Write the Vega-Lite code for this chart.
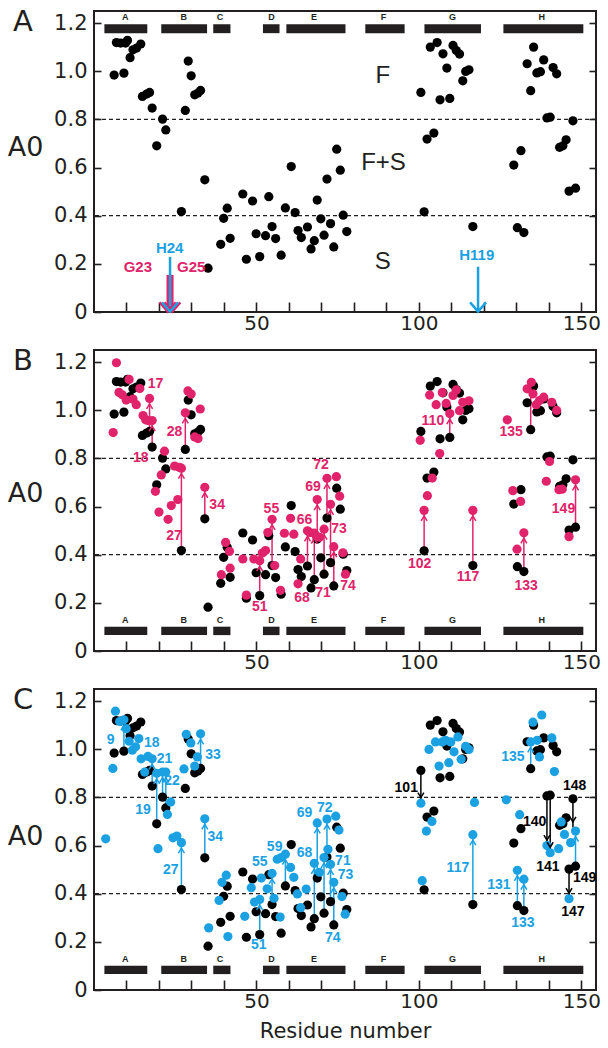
{
"$schema": "https://vega.github.io/schema/vega-lite/v6.json",
"padding": {"left": 6, "top": 6, "right": 5, "bottom": 5},
"background": "white",
"spacing": 38,
"bounds": "flush",
"config": {
  "font": "Liberation Sans",
  "view": {"stroke": "#231f20", "strokeWidth": 2},
  "axis": {"domain": false, "grid": false, "tickColor": "#231f20", "tickWidth": 1.6, "labelColor": "#231f20", "titleColor": "#231f20", "labelFont": "DejaVu Sans", "titleFont": "DejaVu Sans", "titleFontWeight": "normal"},
  "axisY": {"tickSize": -7, "labelFontSize": 21, "labelPadding": 14},
  "axisX": {"tickSize": -10, "labelFontSize": 20, "labelPadding": 11}
},
"datasets": {
  "dashes": [{"A0": 0.4}, {"A0": 0.8}],
  "helix": [
    {"name": "A", "residue": 3.2, "end": 16.4, "mid": 9.6},
    {"name": "B", "residue": 20.7, "end": 34.8, "mid": 27.6},
    {"name": "C", "residue": 36.7, "end": 42.0, "mid": 38.8},
    {"name": "D", "residue": 52.0, "end": 57.1, "mid": 54.6},
    {"name": "E", "residue": 59.2, "end": 77.4, "mid": 67.7},
    {"name": "F", "residue": 83.5, "end": 95.6, "mid": 89.1},
    {"name": "G", "residue": 101.7, "end": 119.1, "mid": 110.3},
    {"name": "H", "residue": 126.0, "end": 150.6, "mid": 137.8}
  ],
  "black": [
    {"residue": 6.2, "A0": 0.984}, {"residue": 6.9, "A0": 1.119}, {"residue": 8.2, "A0": 1.117}, {"residue": 9.2, "A0": 0.992},
    {"residue": 9.7, "A0": 1.117}, {"residue": 10.3, "A0": 1.128}, {"residue": 11.1, "A0": 1.056}, {"residue": 12.0, "A0": 1.089},
    {"residue": 13.1, "A0": 1.096}, {"residue": 14.4, "A0": 1.113}, {"residue": 14.9, "A0": 0.895}, {"residue": 16.2, "A0": 0.905},
    {"residue": 17.1, "A0": 0.912}, {"residue": 17.9, "A0": 0.847}, {"residue": 19.3, "A0": 0.690}, {"residue": 21.1, "A0": 0.801},
    {"residue": 22.1, "A0": 0.756}, {"residue": 26.9, "A0": 0.417}, {"residue": 28.1, "A0": 0.837}, {"residue": 29.0, "A0": 1.042},
    {"residue": 29.9, "A0": 0.981}, {"residue": 31.0, "A0": 0.902}, {"residue": 32.0, "A0": 0.909}, {"residue": 32.8, "A0": 0.920},
    {"residue": 34.1, "A0": 0.549}, {"residue": 35.1, "A0": 0.182}, {"residue": 39.0, "A0": 0.281}, {"residue": 39.9, "A0": 0.389},
    {"residue": 41.0, "A0": 0.431}, {"residue": 41.9, "A0": 0.306}, {"residue": 45.8, "A0": 0.490}, {"residue": 46.9, "A0": 0.219},
    {"residue": 48.8, "A0": 0.461}, {"residue": 49.9, "A0": 0.325}, {"residue": 51.0, "A0": 0.230}, {"residue": 52.8, "A0": 0.317},
    {"residue": 53.8, "A0": 0.479}, {"residue": 54.8, "A0": 0.355}, {"residue": 55.9, "A0": 0.305}, {"residue": 57.6, "A0": 0.236},
    {"residue": 58.9, "A0": 0.432}, {"residue": 60.7, "A0": 0.604}, {"residue": 61.9, "A0": 0.413}, {"residue": 62.8, "A0": 0.338},
    {"residue": 63.8, "A0": 0.309}, {"residue": 65.7, "A0": 0.353}, {"residue": 66.8, "A0": 0.262}, {"residue": 67.8, "A0": 0.296},
    {"residue": 68.7, "A0": 0.465}, {"residue": 69.8, "A0": 0.387}, {"residue": 70.8, "A0": 0.319}, {"residue": 71.7, "A0": 0.552},
    {"residue": 72.8, "A0": 0.367}, {"residue": 73.8, "A0": 0.270}, {"residue": 74.7, "A0": 0.676}, {"residue": 75.8, "A0": 0.589},
    {"residue": 76.7, "A0": 0.402}, {"residue": 77.8, "A0": 0.334}, {"residue": 100.6, "A0": 0.912}, {"residue": 101.6, "A0": 0.416},
    {"residue": 102.5, "A0": 0.718}, {"residue": 103.5, "A0": 1.100}, {"residue": 104.6, "A0": 0.743}, {"residue": 105.6, "A0": 1.119},
    {"residue": 106.5, "A0": 0.881}, {"residue": 107.4, "A0": 1.072}, {"residue": 108.6, "A0": 1.013}, {"residue": 109.5, "A0": 0.887},
    {"residue": 110.5, "A0": 1.107}, {"residue": 111.5, "A0": 1.086}, {"residue": 112.5, "A0": 1.071}, {"residue": 113.5, "A0": 0.960},
    {"residue": 114.4, "A0": 0.999}, {"residue": 115.4, "A0": 1.006}, {"residue": 116.6, "A0": 0.355}, {"residue": 129.2, "A0": 0.610},
    {"residue": 130.3, "A0": 0.350}, {"residue": 131.4, "A0": 0.670}, {"residue": 132.3, "A0": 0.330}, {"residue": 133.3, "A0": 1.031},
    {"residue": 134.4, "A0": 0.919}, {"residue": 135.3, "A0": 1.100}, {"residue": 136.3, "A0": 0.993}, {"residue": 137.4, "A0": 0.998},
    {"residue": 138.4, "A0": 1.047}, {"residue": 139.4, "A0": 0.806}, {"residue": 140.4, "A0": 0.809}, {"residue": 141.3, "A0": 1.015},
    {"residue": 142.4, "A0": 0.989}, {"residue": 143.3, "A0": 0.684}, {"residue": 144.3, "A0": 0.690}, {"residue": 145.3, "A0": 0.715},
    {"residue": 146.2, "A0": 0.502}, {"residue": 147.4, "A0": 0.794}, {"residue": 148.2, "A0": 0.514}
  ],
  "magenta": [
    {"residue": 6.9, "A0": 1.197}, {"residue": 5.9, "A0": 0.907}, {"residue": 7.7, "A0": 1.074}, {"residue": 8.7, "A0": 1.064},
    {"residue": 9.9, "A0": 1.042}, {"residue": 10.8, "A0": 1.128}, {"residue": 12.0, "A0": 1.046}, {"residue": 13.0, "A0": 1.023},
    {"residue": 14.1, "A0": 1.090}, {"residue": 15.1, "A0": 0.978}, {"residue": 15.9, "A0": 0.960}, {"residue": 17.1, "A0": 1.049},
    {"residue": 16.7, "A0": 0.957}, {"residue": 17.9, "A0": 0.957}, {"residue": 18.9, "A0": 0.663}, {"residue": 20.0, "A0": 0.577},
    {"residue": 20.7, "A0": 0.731}, {"residue": 21.7, "A0": 0.830}, {"residue": 22.8, "A0": 0.547}, {"residue": 23.8, "A0": 0.604},
    {"residue": 24.8, "A0": 0.768}, {"residue": 25.8, "A0": 0.629}, {"residue": 26.2, "A0": 0.763}, {"residue": 26.9, "A0": 0.759},
    {"residue": 28.1, "A0": 0.989}, {"residue": 28.9, "A0": 1.080}, {"residue": 29.9, "A0": 1.067}, {"residue": 31.0, "A0": 0.889},
    {"residue": 32.0, "A0": 0.882}, {"residue": 32.7, "A0": 1.005}, {"residue": 34.1, "A0": 0.680}, {"residue": 39.2, "A0": 0.317},
    {"residue": 40.5, "A0": 0.451}, {"residue": 41.7, "A0": 0.414}, {"residue": 41.9, "A0": 0.344}, {"residue": 45.8, "A0": 0.382},
    {"residue": 46.9, "A0": 0.232}, {"residue": 49.2, "A0": 0.382}, {"residue": 51.0, "A0": 0.375}, {"residue": 51.8, "A0": 0.407},
    {"residue": 52.8, "A0": 0.417}, {"residue": 53.5, "A0": 0.492}, {"residue": 54.8, "A0": 0.547}, {"residue": 55.6, "A0": 0.355},
    {"residue": 57.4, "A0": 0.252}, {"residue": 58.6, "A0": 0.489}, {"residue": 60.5, "A0": 0.551}, {"residue": 61.5, "A0": 0.485},
    {"residue": 63.6, "A0": 0.382}, {"residue": 62.8, "A0": 0.279}, {"residue": 65.7, "A0": 0.499}, {"residue": 66.4, "A0": 0.492},
    {"residue": 67.8, "A0": 0.490}, {"residue": 68.4, "A0": 0.478}, {"residue": 68.7, "A0": 0.629}, {"residue": 69.4, "A0": 0.472},
    {"residue": 70.8, "A0": 0.506}, {"residue": 71.7, "A0": 0.717}, {"residue": 72.8, "A0": 0.609}, {"residue": 73.8, "A0": 0.433},
    {"residue": 74.6, "A0": 0.724}, {"residue": 75.6, "A0": 0.643}, {"residue": 76.6, "A0": 0.408}, {"residue": 77.4, "A0": 0.319},
    {"residue": 100.4, "A0": 0.875}, {"residue": 101.6, "A0": 0.584}, {"residue": 102.6, "A0": 0.645}, {"residue": 104.1, "A0": 0.718},
    {"residue": 103.3, "A0": 1.063}, {"residue": 105.3, "A0": 1.023}, {"residue": 106.4, "A0": 0.820}, {"residue": 107.2, "A0": 1.073},
    {"residue": 108.4, "A0": 1.028}, {"residue": 109.5, "A0": 0.986}, {"residue": 110.5, "A0": 1.061}, {"residue": 111.5, "A0": 1.084},
    {"residue": 112.5, "A0": 0.998}, {"residue": 113.5, "A0": 1.033}, {"residue": 115.4, "A0": 1.039}, {"residue": 116.6, "A0": 0.584},
    {"residue": 127.2, "A0": 0.960}, {"residue": 128.9, "A0": 0.666}, {"residue": 131.3, "A0": 0.621}, {"residue": 130.2, "A0": 0.423},
    {"residue": 132.3, "A0": 0.491}, {"residue": 133.3, "A0": 1.089}, {"residue": 134.6, "A0": 1.116}, {"residue": 135.1, "A0": 1.068},
    {"residue": 136.1, "A0": 1.023}, {"residue": 137.1, "A0": 1.040}, {"residue": 138.4, "A0": 1.054}, {"residue": 140.2, "A0": 0.787},
    {"residue": 139.2, "A0": 0.705}, {"residue": 140.9, "A0": 1.033}, {"residue": 142.4, "A0": 0.999}, {"residue": 143.1, "A0": 0.670},
    {"residue": 144.1, "A0": 0.672}, {"residue": 146.2, "A0": 0.475}, {"residue": 148.2, "A0": 0.711}
  ],
  "cyan": [
    {"residue": 3.6, "A0": 0.628}, {"residue": 5.8, "A0": 0.920}, {"residue": 6.6, "A0": 1.158}, {"residue": 7.9, "A0": 1.115},
    {"residue": 9.2, "A0": 1.122}, {"residue": 9.9, "A0": 1.085}, {"residue": 10.8, "A0": 1.033}, {"residue": 11.8, "A0": 0.996},
    {"residue": 12.8, "A0": 1.010}, {"residue": 13.8, "A0": 1.044}, {"residue": 14.5, "A0": 0.960}, {"residue": 15.6, "A0": 0.905},
    {"residue": 16.6, "A0": 0.970}, {"residue": 17.9, "A0": 0.960}, {"residue": 19.3, "A0": 0.900}, {"residue": 21.1, "A0": 0.905},
    {"residue": 22.1, "A0": 0.905}, {"residue": 19.7, "A0": 0.587}, {"residue": 22.6, "A0": 0.729}, {"residue": 23.6, "A0": 0.781},
    {"residue": 24.3, "A0": 0.632}, {"residue": 25.5, "A0": 0.639}, {"residue": 26.9, "A0": 0.612}, {"residue": 27.7, "A0": 0.918},
    {"residue": 28.4, "A0": 1.062}, {"residue": 29.8, "A0": 1.026}, {"residue": 31.0, "A0": 0.930}, {"residue": 31.8, "A0": 0.968},
    {"residue": 32.8, "A0": 1.064}, {"residue": 34.1, "A0": 0.711}, {"residue": 35.3, "A0": 0.258}, {"residue": 38.5, "A0": 0.372},
    {"residue": 39.4, "A0": 0.447}, {"residue": 40.7, "A0": 0.477}, {"residue": 41.2, "A0": 0.222}, {"residue": 46.4, "A0": 0.306},
    {"residue": 48.4, "A0": 0.425}, {"residue": 49.4, "A0": 0.365}, {"residue": 51.0, "A0": 0.376}, {"residue": 51.5, "A0": 0.465},
    {"residue": 53.3, "A0": 0.420}, {"residue": 54.8, "A0": 0.484}, {"residue": 55.4, "A0": 0.381}, {"residue": 57.3, "A0": 0.303},
    {"residue": 56.4, "A0": 0.543}, {"residue": 57.6, "A0": 0.550}, {"residue": 58.9, "A0": 0.564}, {"residue": 60.5, "A0": 0.509},
    {"residue": 61.5, "A0": 0.468}, {"residue": 62.6, "A0": 0.399}, {"residue": 63.6, "A0": 0.342}, {"residue": 65.3, "A0": 0.419},
    {"residue": 67.8, "A0": 0.526}, {"residue": 68.7, "A0": 0.694}, {"residue": 69.4, "A0": 0.489}, {"residue": 70.8, "A0": 0.550},
    {"residue": 71.7, "A0": 0.710}, {"residue": 72.0, "A0": 0.584}, {"residue": 72.8, "A0": 0.522}, {"residue": 73.8, "A0": 0.447},
    {"residue": 74.4, "A0": 0.722}, {"residue": 75.4, "A0": 0.664}, {"residue": 76.3, "A0": 0.388}, {"residue": 77.3, "A0": 0.315},
    {"residue": 100.6, "A0": 0.776}, {"residue": 101.0, "A0": 0.454}, {"residue": 102.3, "A0": 0.660}, {"residue": 104.0, "A0": 0.700},
    {"residue": 103.1, "A0": 0.999}, {"residue": 105.1, "A0": 1.030}, {"residue": 106.2, "A0": 0.930}, {"residue": 107.2, "A0": 1.030},
    {"residue": 108.2, "A0": 1.037}, {"residue": 109.2, "A0": 0.944}, {"residue": 109.8, "A0": 1.030}, {"residue": 110.8, "A0": 0.989},
    {"residue": 112.0, "A0": 1.051}, {"residue": 113.0, "A0": 0.958}, {"residue": 114.4, "A0": 1.012}, {"residue": 115.4, "A0": 0.999},
    {"residue": 117.1, "A0": 0.779}, {"residue": 116.6, "A0": 0.645}, {"residue": 126.9, "A0": 0.790}, {"residue": 131.0, "A0": 0.728},
    {"residue": 130.3, "A0": 0.497}, {"residue": 132.3, "A0": 0.460}, {"residue": 134.4, "A0": 1.030}, {"residue": 135.1, "A0": 1.112},
    {"residue": 136.4, "A0": 1.037}, {"residue": 137.8, "A0": 1.142}, {"residue": 137.1, "A0": 0.968}, {"residue": 140.9, "A0": 1.047},
    {"residue": 141.7, "A0": 0.907}, {"residue": 139.4, "A0": 0.600}, {"residue": 140.4, "A0": 0.570}, {"residue": 143.0, "A0": 0.587},
    {"residue": 143.8, "A0": 0.698}, {"residue": 144.8, "A0": 0.646}, {"residue": 146.7, "A0": 0.612}, {"residue": 148.2, "A0": 0.660},
    {"residue": 146.2, "A0": 0.379}
  ],
  "arrowsA": [
    {"residue": 22.7, "A0": 0.154, "to": 0, "c": "m"},
    {"residue": 24.1, "A0": 0.154, "to": 0, "c": "m"},
    {"residue": 23.4, "A0": 0.229, "to": 0, "c": "c"},
    {"residue": 118.2, "A0": 0.188, "to": 0, "c": "c"}
  ],
  "labelsA": [
    {"residue": 23.3, "A0": 0.265, "label": "H24", "c": "c"},
    {"residue": 13.5, "A0": 0.188, "label": "G23", "c": "m"},
    {"residue": 29.9, "A0": 0.188, "label": "G25", "c": "m"},
    {"residue": 117.8, "A0": 0.237, "label": "H119", "c": "c"}
  ],
  "arrowsB": [
    {"residue": 17.1, "A0": 0.912, "to": 1.049, "c": "m", "dir": "up"},
    {"residue": 17.9, "A0": 0.847, "to": 0.957, "c": "m", "dir": "up"},
    {"residue": 26.9, "A0": 0.417, "to": 0.759, "c": "m", "dir": "up"},
    {"residue": 28.1, "A0": 0.837, "to": 0.989, "c": "m", "dir": "up"},
    {"residue": 34.1, "A0": 0.549, "to": 0.680, "c": "m", "dir": "up"},
    {"residue": 51.0, "A0": 0.230, "to": 0.375, "c": "m", "dir": "up"},
    {"residue": 54.8, "A0": 0.355, "to": 0.547, "c": "m", "dir": "up"},
    {"residue": 65.7, "A0": 0.353, "to": 0.499, "c": "m", "dir": "up"},
    {"residue": 67.8, "A0": 0.296, "to": 0.490, "c": "m", "dir": "up"},
    {"residue": 68.7, "A0": 0.465, "to": 0.629, "c": "m", "dir": "up"},
    {"residue": 70.8, "A0": 0.319, "to": 0.506, "c": "m", "dir": "up"},
    {"residue": 71.7, "A0": 0.552, "to": 0.717, "c": "m", "dir": "up"},
    {"residue": 72.8, "A0": 0.367, "to": 0.609, "c": "m", "dir": "up"},
    {"residue": 73.8, "A0": 0.270, "to": 0.433, "c": "m", "dir": "up"},
    {"residue": 101.6, "A0": 0.416, "to": 0.584, "c": "m", "dir": "up"},
    {"residue": 109.5, "A0": 0.887, "to": 0.986, "c": "m", "dir": "up"},
    {"residue": 116.6, "A0": 0.355, "to": 0.584, "c": "m", "dir": "up"},
    {"residue": 132.3, "A0": 0.330, "to": 0.491, "c": "m", "dir": "up"},
    {"residue": 148.2, "A0": 0.514, "to": 0.711, "c": "m", "dir": "up"}
  ],
  "linesB": [
    {"residue": 134.4, "A0": 0.919, "to": 1.10, "c": "m"}
  ],
  "labelsB": [
    {"residue": 18.9, "A0": 1.108, "label": "17", "c": "m"},
    {"residue": 14.4, "A0": 0.802, "label": "18", "c": "m"},
    {"residue": 24.6, "A0": 0.476, "label": "27", "c": "m"},
    {"residue": 24.8, "A0": 0.909, "label": "28", "c": "m"},
    {"residue": 37.9, "A0": 0.608, "label": "34", "c": "m"},
    {"residue": 51.0, "A0": 0.184, "label": "51", "c": "m"},
    {"residue": 54.6, "A0": 0.590, "label": "55", "c": "m"},
    {"residue": 64.8, "A0": 0.542, "label": "66", "c": "m"},
    {"residue": 64.0, "A0": 0.221, "label": "68", "c": "m"},
    {"residue": 67.4, "A0": 0.683, "label": "69", "c": "m"},
    {"residue": 70.5, "A0": 0.241, "label": "71", "c": "m"},
    {"residue": 69.9, "A0": 0.772, "label": "72", "c": "m"},
    {"residue": 75.4, "A0": 0.508, "label": "73", "c": "m"},
    {"residue": 78.2, "A0": 0.270, "label": "74", "c": "m"},
    {"residue": 100.2, "A0": 0.362, "label": "102", "c": "m"},
    {"residue": 104.3, "A0": 0.957, "label": "110", "c": "m"},
    {"residue": 115.1, "A0": 0.307, "label": "117", "c": "m"},
    {"residue": 133.0, "A0": 0.272, "label": "133", "c": "m"},
    {"residue": 128.4, "A0": 0.909, "label": "135", "c": "m"},
    {"residue": 144.5, "A0": 0.588, "label": "149", "c": "m"}
  ],
  "arrowsC": [
    {"residue": 9.2, "A0": 0.992, "to": 1.122, "c": "c", "dir": "up"},
    {"residue": 17.9, "A0": 0.847, "to": 0.960, "c": "c", "dir": "up"},
    {"residue": 19.3, "A0": 0.690, "to": 0.900, "c": "c", "dir": "up"},
    {"residue": 21.1, "A0": 0.801, "to": 0.905, "c": "c", "dir": "up"},
    {"residue": 22.1, "A0": 0.756, "to": 0.905, "c": "c", "dir": "up"},
    {"residue": 26.9, "A0": 0.417, "to": 0.612, "c": "c", "dir": "up"},
    {"residue": 32.8, "A0": 0.920, "to": 1.064, "c": "c", "dir": "up"},
    {"residue": 34.1, "A0": 0.549, "to": 0.711, "c": "c", "dir": "up"},
    {"residue": 51.0, "A0": 0.230, "to": 0.376, "c": "c", "dir": "up"},
    {"residue": 54.8, "A0": 0.355, "to": 0.484, "c": "c", "dir": "up"},
    {"residue": 58.9, "A0": 0.432, "to": 0.564, "c": "c", "dir": "up"},
    {"residue": 67.8, "A0": 0.296, "to": 0.526, "c": "c", "dir": "up"},
    {"residue": 68.7, "A0": 0.465, "to": 0.694, "c": "c", "dir": "up"},
    {"residue": 70.8, "A0": 0.319, "to": 0.550, "c": "c", "dir": "up"},
    {"residue": 71.7, "A0": 0.552, "to": 0.710, "c": "c", "dir": "up"},
    {"residue": 72.8, "A0": 0.367, "to": 0.522, "c": "c", "dir": "up"},
    {"residue": 73.8, "A0": 0.270, "to": 0.447, "c": "c", "dir": "up"},
    {"residue": 116.6, "A0": 0.355, "to": 0.645, "c": "c", "dir": "up"},
    {"residue": 130.3, "A0": 0.350, "to": 0.497, "c": "c", "dir": "up"},
    {"residue": 132.3, "A0": 0.330, "to": 0.460, "c": "c", "dir": "up"},
    {"residue": 134.4, "A0": 0.919, "to": 1.030, "c": "c", "dir": "up"},
    {"residue": 148.2, "A0": 0.514, "to": 0.660, "c": "c", "dir": "up"},
    {"residue": 100.6, "A0": 0.912, "to": 0.776, "c": "k", "dir": "down"},
    {"residue": 139.4, "A0": 0.806, "to": 0.600, "c": "k", "dir": "down"},
    {"residue": 140.4, "A0": 0.809, "to": 0.570, "c": "k", "dir": "down"},
    {"residue": 147.4, "A0": 0.794, "to": 0.675, "c": "k", "dir": "down"},
    {"residue": 146.2, "A0": 0.502, "to": 0.379, "c": "k", "dir": "down"}
  ],
  "labelsC": [
    {"residue": 5.1, "A0": 1.040, "label": "9", "c": "c"},
    {"residue": 17.8, "A0": 1.026, "label": "18", "c": "c"},
    {"residue": 21.7, "A0": 0.958, "label": "21", "c": "c"},
    {"residue": 24.0, "A0": 0.870, "label": "22", "c": "c"},
    {"residue": 15.1, "A0": 0.749, "label": "19", "c": "c"},
    {"residue": 23.6, "A0": 0.498, "label": "27", "c": "c"},
    {"residue": 36.6, "A0": 0.975, "label": "33", "c": "c"},
    {"residue": 37.3, "A0": 0.635, "label": "34", "c": "c"},
    {"residue": 50.7, "A0": 0.186, "label": "51", "c": "c"},
    {"residue": 51.0, "A0": 0.532, "label": "55", "c": "c"},
    {"residue": 55.6, "A0": 0.595, "label": "59", "c": "c"},
    {"residue": 64.8, "A0": 0.571, "label": "68", "c": "c"},
    {"residue": 64.8, "A0": 0.733, "label": "69", "c": "c"},
    {"residue": 76.6, "A0": 0.536, "label": "71", "c": "c"},
    {"residue": 71.0, "A0": 0.756, "label": "72", "c": "c"},
    {"residue": 77.4, "A0": 0.477, "label": "73", "c": "c"},
    {"residue": 73.5, "A0": 0.214, "label": "74", "c": "c"},
    {"residue": 112.0, "A0": 0.505, "label": "117", "c": "c"},
    {"residue": 124.6, "A0": 0.436, "label": "131", "c": "c"},
    {"residue": 132.0, "A0": 0.279, "label": "133", "c": "c"},
    {"residue": 128.9, "A0": 0.968, "label": "135", "c": "c"},
    {"residue": 96.1, "A0": 0.840, "label": "101", "c": "k"},
    {"residue": 135.6, "A0": 0.697, "label": "140", "c": "k"},
    {"residue": 139.7, "A0": 0.509, "label": "141", "c": "k"},
    {"residue": 147.9, "A0": 0.848, "label": "148", "c": "k"},
    {"residue": 147.4, "A0": 0.324, "label": "147", "c": "k"},
    {"residue": 151.0, "A0": 0.464, "label": "149", "c": "k"}
  ]
},
"vconcat": [
  {
    "width": 502, "height": 301,
    "resolve": {"axis": {"x": "independent", "y": "independent"}},
    "layer": [
      {"data": {"name": "dashes"}, "mark": {"type": "rule", "strokeDash": [4, 3], "strokeWidth": 1.2, "color": "#231f20"},
       "encoding": {"y": {"field": "A0", "type": "quantitative", "scale": {"domain": [0, 1.25], "nice": false}, "axis": {"orient": "right", "values": [0.2, 0.4, 0.6, 0.8, 1, 1.2], "labels": false, "title": null}}}},
      {"data": {"name": "helix"}, "mark": {"type": "rect", "color": "#231f20"},
       "encoding": {"x": {"field": "residue", "type": "quantitative", "scale": {"domain": [0, 154.5], "nice": false, "zero": false}, "axis": null}, "x2": {"field": "end"}, "y": {"datum": 1.158, "type": "quantitative", "scale": {"domain": [0, 1.25], "nice": false}, "axis": null}, "y2": {"datum": 1.195}}},
      {"data": {"name": "helix"}, "mark": {"type": "text", "fontSize": 9, "fontWeight": "bold", "color": "#231f20", "baseline": "middle"},
       "encoding": {"x": {"field": "mid", "type": "quantitative", "scale": {"domain": [0, 154.5], "nice": false, "zero": false}, "axis": null}, "y": {"datum": 1.227, "type": "quantitative", "scale": {"domain": [0, 1.25], "nice": false}, "axis": null}, "text": {"field": "name"}}},
      {"data": {"name": "black"}, "mark": {"type": "circle", "size": 85, "color": "#000000", "opacity": 1},
       "encoding": {
          "x": {"field": "residue", "type": "quantitative", "scale": {"domain": [0, 154.5], "nice": false, "zero": false}, "axis": {"orient": "bottom", "values": [10, 20, 30, 40, 50, 60, 70, 80, 90, 100, 110, 120, 130, 140, 150], "labelExpr": "datum.value % 50 == 0 ? datum.label : ''", "title": null}},
          "y": {"field": "A0", "type": "quantitative", "scale": {"domain": [0, 1.25], "nice": false}, "axis": {"orient": "left", "values": [0, 0.2, 0.4, 0.6, 0.8, 1, 1.2], "labelExpr": "datum.value == 0 ? '0' : format(datum.value, '.1f')", "title": "A0", "titleAngle": 0, "titleFontSize": 27, "titleAlign": "right", "titleBaseline": "middle", "titleX": -51, "titleY": 136}}}},
      {"data": {"name": "arrowsA"}, "mark": {"type": "rule", "strokeWidth": 2.5},
       "encoding": {"x": {"field": "residue", "type": "quantitative", "scale": {"domain": [0, 154.5], "nice": false, "zero": false}, "axis": null}, "y": {"field": "A0", "type": "quantitative", "scale": {"domain": [0, 1.25], "nice": false}, "axis": null}, "y2": {"field": "to"}, "color": {"field": "c", "type": "nominal", "scale": {"domain": ["k", "m", "c"], "range": ["#000000", "#E0236A", "#1BA1E2"]}, "legend": null}}},
      {"data": {"name": "arrowsA"}, "mark": {"type": "point", "filled": false, "strokeWidth": 2.5, "size": 256, "opacity": 1, "shape": "M-1,-1.2L0,-0.05L1,-1.2"},
       "encoding": {"x": {"field": "residue", "type": "quantitative", "scale": {"domain": [0, 154.5], "nice": false, "zero": false}, "axis": null}, "y": {"field": "to", "type": "quantitative", "scale": {"domain": [0, 1.25], "nice": false}, "axis": null}, "color": {"field": "c", "type": "nominal", "scale": {"domain": ["k", "m", "c"], "range": ["#000000", "#E0236A", "#1BA1E2"]}, "legend": null}}},
      {"data": {"name": "labelsA"}, "mark": {"type": "text", "fontSize": 15, "fontWeight": "bold", "baseline": "middle"},
       "encoding": {"x": {"field": "residue", "type": "quantitative", "scale": {"domain": [0, 154.5], "nice": false, "zero": false}, "axis": null}, "y": {"field": "A0", "type": "quantitative", "scale": {"domain": [0, 1.25], "nice": false}, "axis": null}, "text": {"field": "label"}, "color": {"field": "c", "type": "nominal", "scale": {"domain": ["k", "m", "c"], "range": ["#000000", "#E0236A", "#1BA1E2"]}, "legend": null}}},
      {"data": {"values": [{"residue": 88.9, "A0": 0.981, "t": "F"}, {"residue": 89.1, "A0": 0.618, "t": "F+S"}, {"residue": 88.9, "A0": 0.209, "t": "S"}]},
       "mark": {"type": "text", "fontSize": 24, "baseline": "middle", "color": "#231f20"},
       "encoding": {"x": {"field": "residue", "type": "quantitative", "scale": {"domain": [0, 154.5], "nice": false, "zero": false}, "axis": null}, "y": {"field": "A0", "type": "quantitative", "scale": {"domain": [0, 1.25], "nice": false}, "axis": null}, "text": {"field": "t"}}},
      {"data": {"values": [{"residue": -24.9, "A0": 1.206, "t": "A"}]},
       "mark": {"type": "text", "font": "DejaVu Sans", "fontSize": 29, "align": "left", "baseline": "middle", "color": "#231f20"},
       "encoding": {"x": {"field": "residue", "type": "quantitative", "scale": {"domain": [0, 154.5], "nice": false, "zero": false}, "axis": null}, "y": {"field": "A0", "type": "quantitative", "scale": {"domain": [0, 1.25], "nice": false}, "axis": null}, "text": {"field": "t"}}}
    ]
  },
  {
    "width": 502, "height": 301,
    "resolve": {"axis": {"x": "independent", "y": "independent"}},
    "layer": [
      {"data": {"name": "dashes"}, "mark": {"type": "rule", "strokeDash": [4, 3], "strokeWidth": 1.2, "color": "#231f20"},
       "encoding": {"y": {"field": "A0", "type": "quantitative", "scale": {"domain": [0, 1.25], "nice": false}, "axis": {"orient": "right", "values": [0.2, 0.4, 0.6, 0.8, 1, 1.2], "labels": false, "title": null}}}},
      {"data": {"name": "helix"}, "mark": {"type": "rect", "color": "#231f20"},
       "encoding": {"x": {"field": "residue", "type": "quantitative", "scale": {"domain": [0, 154.5], "nice": false, "zero": false}, "axis": null}, "x2": {"field": "end"}, "y": {"datum": 0.066, "type": "quantitative", "scale": {"domain": [0, 1.25], "nice": false}, "axis": null}, "y2": {"datum": 0.101}}},
      {"data": {"name": "helix"}, "mark": {"type": "text", "fontSize": 9, "fontWeight": "bold", "color": "#231f20", "baseline": "middle"},
       "encoding": {"x": {"field": "mid", "type": "quantitative", "scale": {"domain": [0, 154.5], "nice": false, "zero": false}, "axis": null}, "y": {"datum": 0.129, "type": "quantitative", "scale": {"domain": [0, 1.25], "nice": false}, "axis": null}, "text": {"field": "name"}}},
      {"data": {"name": "arrowsB"}, "mark": {"type": "rule", "strokeWidth": 1.5},
       "encoding": {"x": {"field": "residue", "type": "quantitative", "scale": {"domain": [0, 154.5], "nice": false, "zero": false}, "axis": null}, "y": {"field": "A0", "type": "quantitative", "scale": {"domain": [0, 1.25], "nice": false}, "axis": null}, "y2": {"field": "to"}, "color": {"field": "c", "type": "nominal", "scale": {"domain": ["k", "m", "c"], "range": ["#000000", "#E0236A", "#1BA1E2"]}, "legend": null}}},
      {"data": {"name": "linesB"}, "mark": {"type": "rule", "strokeWidth": 1.5},
       "encoding": {"x": {"field": "residue", "type": "quantitative", "scale": {"domain": [0, 154.5], "nice": false, "zero": false}, "axis": null}, "y": {"field": "A0", "type": "quantitative", "scale": {"domain": [0, 1.25], "nice": false}, "axis": null}, "y2": {"field": "to"}, "color": {"field": "c", "type": "nominal", "scale": {"domain": ["k", "m", "c"], "range": ["#000000", "#E0236A", "#1BA1E2"]}, "legend": null}}},
      {"data": {"name": "black"}, "mark": {"type": "circle", "size": 85, "color": "#000000", "opacity": 1},
       "encoding": {
          "x": {"field": "residue", "type": "quantitative", "scale": {"domain": [0, 154.5], "nice": false, "zero": false}, "axis": {"orient": "bottom", "values": [10, 20, 30, 40, 50, 60, 70, 80, 90, 100, 110, 120, 130, 140, 150], "labelExpr": "datum.value % 50 == 0 ? datum.label : ''", "title": null}},
          "y": {"field": "A0", "type": "quantitative", "scale": {"domain": [0, 1.25], "nice": false}, "axis": {"orient": "left", "values": [0, 0.2, 0.4, 0.6, 0.8, 1, 1.2], "labelExpr": "datum.value == 0 ? '0' : format(datum.value, '.1f')", "title": "A0", "titleAngle": 0, "titleFontSize": 27, "titleAlign": "right", "titleBaseline": "middle", "titleX": -51, "titleY": 143}}}},
      {"data": {"name": "magenta"}, "mark": {"type": "circle", "size": 85, "color": "#E0236A", "opacity": 1},
       "encoding": {"x": {"field": "residue", "type": "quantitative", "scale": {"domain": [0, 154.5], "nice": false, "zero": false}, "axis": null}, "y": {"field": "A0", "type": "quantitative", "scale": {"domain": [0, 1.25], "nice": false}, "axis": null}}},
      {"data": {"name": "arrowsB"}, "mark": {"type": "point", "filled": false, "strokeWidth": 1.5, "size": 100, "opacity": 1},
       "encoding": {"x": {"field": "residue", "type": "quantitative", "scale": {"domain": [0, 154.5], "nice": false, "zero": false}, "axis": null}, "y": {"field": "to", "type": "quantitative", "scale": {"domain": [0, 1.25], "nice": false}, "axis": null}, "shape": {"field": "dir", "type": "nominal", "scale": {"domain": ["up", "down"], "range": ["M-0.6,2.1L0,1.1L0.6,2.1", "M-0.6,-2.1L0,-1.1L0.6,-2.1"]}, "legend": null}, "color": {"field": "c", "type": "nominal", "scale": {"domain": ["k", "m", "c"], "range": ["#000000", "#E0236A", "#1BA1E2"]}, "legend": null}}},
      {"data": {"name": "labelsB"}, "mark": {"type": "text", "fontSize": 14, "fontWeight": "bold", "baseline": "middle"},
       "encoding": {"x": {"field": "residue", "type": "quantitative", "scale": {"domain": [0, 154.5], "nice": false, "zero": false}, "axis": null}, "y": {"field": "A0", "type": "quantitative", "scale": {"domain": [0, 1.25], "nice": false}, "axis": null}, "text": {"field": "label"}, "color": {"field": "c", "type": "nominal", "scale": {"domain": ["k", "m", "c"], "range": ["#000000", "#E0236A", "#1BA1E2"]}, "legend": null}}},
      {"data": {"values": [{"residue": -24.9, "A0": 1.206, "t": "B"}]},
       "mark": {"type": "text", "font": "DejaVu Sans", "fontSize": 29, "align": "left", "baseline": "middle", "color": "#231f20"},
       "encoding": {"x": {"field": "residue", "type": "quantitative", "scale": {"domain": [0, 154.5], "nice": false, "zero": false}, "axis": null}, "y": {"field": "A0", "type": "quantitative", "scale": {"domain": [0, 1.25], "nice": false}, "axis": null}, "text": {"field": "t"}}}
    ]
  },
  {
    "width": 502, "height": 301,
    "resolve": {"axis": {"x": "independent", "y": "independent"}},
    "layer": [
      {"data": {"name": "dashes"}, "mark": {"type": "rule", "strokeDash": [4, 3], "strokeWidth": 1.2, "color": "#231f20"},
       "encoding": {"y": {"field": "A0", "type": "quantitative", "scale": {"domain": [0, 1.25], "nice": false}, "axis": {"orient": "right", "values": [0.2, 0.4, 0.6, 0.8, 1, 1.2], "labels": false, "title": null}}}},
      {"data": {"name": "helix"}, "mark": {"type": "rect", "color": "#231f20"},
       "encoding": {"x": {"field": "residue", "type": "quantitative", "scale": {"domain": [0, 154.5], "nice": false, "zero": false}, "axis": null}, "x2": {"field": "end"}, "y": {"datum": 0.066, "type": "quantitative", "scale": {"domain": [0, 1.25], "nice": false}, "axis": null}, "y2": {"datum": 0.101}}},
      {"data": {"name": "helix"}, "mark": {"type": "text", "fontSize": 9, "fontWeight": "bold", "color": "#231f20", "baseline": "middle"},
       "encoding": {"x": {"field": "mid", "type": "quantitative", "scale": {"domain": [0, 154.5], "nice": false, "zero": false}, "axis": null}, "y": {"datum": 0.129, "type": "quantitative", "scale": {"domain": [0, 1.25], "nice": false}, "axis": null}, "text": {"field": "name"}}},
      {"data": {"name": "arrowsC"}, "mark": {"type": "rule", "strokeWidth": 1.5},
       "encoding": {"x": {"field": "residue", "type": "quantitative", "scale": {"domain": [0, 154.5], "nice": false, "zero": false}, "axis": null}, "y": {"field": "A0", "type": "quantitative", "scale": {"domain": [0, 1.25], "nice": false}, "axis": null}, "y2": {"field": "to"}, "color": {"field": "c", "type": "nominal", "scale": {"domain": ["k", "m", "c"], "range": ["#000000", "#E0236A", "#1BA1E2"]}, "legend": null}}},
      {"data": {"name": "black"}, "mark": {"type": "circle", "size": 85, "color": "#000000", "opacity": 1},
       "encoding": {
          "x": {"field": "residue", "type": "quantitative", "scale": {"domain": [0, 154.5], "nice": false, "zero": false}, "axis": {"orient": "bottom", "values": [10, 20, 30, 40, 50, 60, 70, 80, 90, 100, 110, 120, 130, 140, 150], "labelExpr": "datum.value % 50 == 0 ? datum.label : ''", "title": "Residue number", "titleFontSize": 21, "titlePadding": 9}},
          "y": {"field": "A0", "type": "quantitative", "scale": {"domain": [0, 1.25], "nice": false}, "axis": {"orient": "left", "values": [0, 0.2, 0.4, 0.6, 0.8, 1, 1.2], "labelExpr": "datum.value == 0 ? '0' : format(datum.value, '.1f')", "title": "A0", "titleAngle": 0, "titleFontSize": 27, "titleAlign": "right", "titleBaseline": "middle", "titleX": -51, "titleY": 147}}}},
      {"data": {"name": "cyan"}, "mark": {"type": "circle", "size": 85, "color": "#1BA1E2", "opacity": 1},
       "encoding": {"x": {"field": "residue", "type": "quantitative", "scale": {"domain": [0, 154.5], "nice": false, "zero": false}, "axis": null}, "y": {"field": "A0", "type": "quantitative", "scale": {"domain": [0, 1.25], "nice": false}, "axis": null}}},
      {"data": {"name": "arrowsC"}, "mark": {"type": "point", "filled": false, "strokeWidth": 1.5, "size": 100, "opacity": 1},
       "encoding": {"x": {"field": "residue", "type": "quantitative", "scale": {"domain": [0, 154.5], "nice": false, "zero": false}, "axis": null}, "y": {"field": "to", "type": "quantitative", "scale": {"domain": [0, 1.25], "nice": false}, "axis": null}, "shape": {"field": "dir", "type": "nominal", "scale": {"domain": ["up", "down"], "range": ["M-0.6,2.1L0,1.1L0.6,2.1", "M-0.6,-2.1L0,-1.1L0.6,-2.1"]}, "legend": null}, "color": {"field": "c", "type": "nominal", "scale": {"domain": ["k", "m", "c"], "range": ["#000000", "#E0236A", "#1BA1E2"]}, "legend": null}}},
      {"data": {"name": "labelsC"}, "mark": {"type": "text", "fontSize": 14, "fontWeight": "bold", "baseline": "middle"},
       "encoding": {"x": {"field": "residue", "type": "quantitative", "scale": {"domain": [0, 154.5], "nice": false, "zero": false}, "axis": null}, "y": {"field": "A0", "type": "quantitative", "scale": {"domain": [0, 1.25], "nice": false}, "axis": null}, "text": {"field": "label"}, "color": {"field": "c", "type": "nominal", "scale": {"domain": ["k", "m", "c"], "range": ["#000000", "#E0236A", "#1BA1E2"]}, "legend": null}}},
      {"data": {"values": [{"residue": -24.9, "A0": 1.206, "t": "C"}]},
       "mark": {"type": "text", "font": "DejaVu Sans", "fontSize": 29, "align": "left", "baseline": "middle", "color": "#231f20"},
       "encoding": {"x": {"field": "residue", "type": "quantitative", "scale": {"domain": [0, 154.5], "nice": false, "zero": false}, "axis": null}, "y": {"field": "A0", "type": "quantitative", "scale": {"domain": [0, 1.25], "nice": false}, "axis": null}, "text": {"field": "t"}}}
    ]
  }
]
}
